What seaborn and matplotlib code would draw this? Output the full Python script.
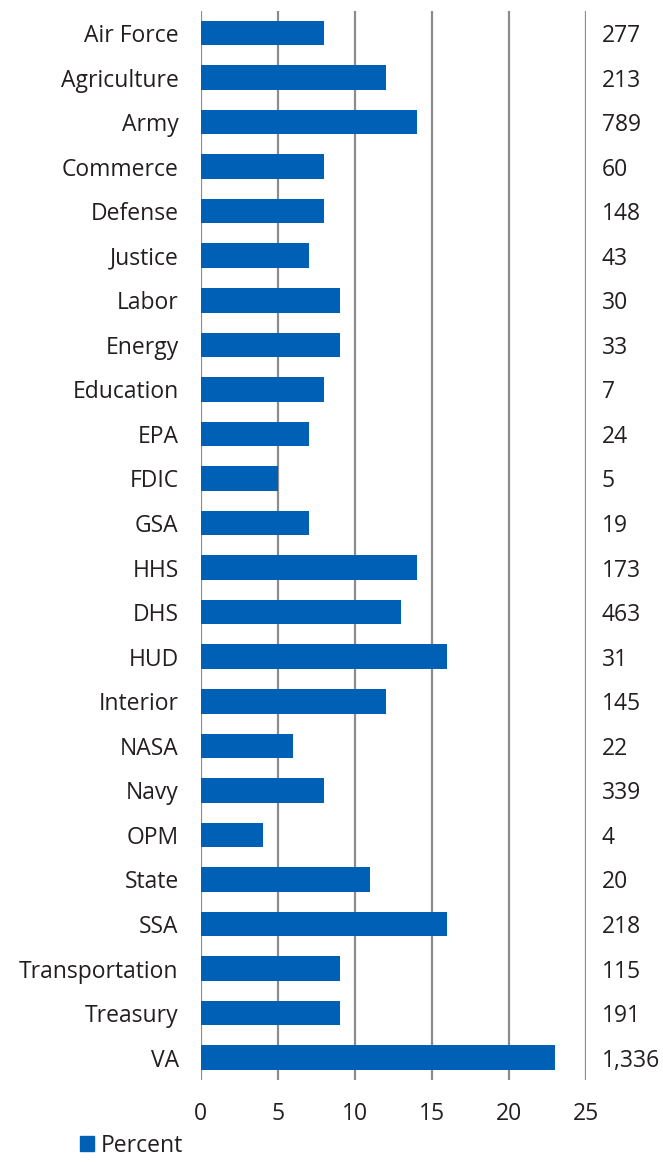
import matplotlib
matplotlib.use('Agg')
import pandas as pd
import seaborn as sns
import matplotlib.pyplot as plt
from matplotlib.patches import Patch

agencies = ['Air Force', 'Agriculture', 'Army', 'Commerce', 'Defense', 'Justice', 'Labor',
            'Energy', 'Education', 'EPA', 'FDIC', 'GSA', 'HHS', 'DHS', 'HUD', 'Interior',
            'NASA', 'Navy', 'OPM', 'State', 'SSA', 'Transportation', 'Treasury', 'VA']
percent = [8, 12, 14, 8, 8, 7, 9, 9, 8, 7, 5, 7, 14, 13, 16, 12, 6, 8, 4, 11, 16, 9, 9, 23]
counts = [277, 213, 789, 60, 148, 43, 30, 33, 7, 24, 5, 19, 173, 463, 31, 145, 22, 339,
          4, 20, 218, 115, 191, 1336]
xticks = [0, 5, 10, 15, 20, 25]

df = pd.DataFrame({'agency': agencies, 'percent': percent, 'count': counts})

sns.set_style('white')
plt.rcParams['font.family'] = ['Open Sans', 'DejaVu Sans']
txt = '#231f20'
blue = '#0060b6'
grey = '#8c8c8c'
fs = 16.5

fig = plt.figure(figsize=(6.63, 11.62), dpi=100)
ax = fig.add_axes([0.303, 0.0706, 0.581, 0.9202])

sns.barplot(data=df, x='percent', y='agency', orient='h', color=blue,
            width=0.55, saturation=1, linewidth=0, ax=ax)

ax.set_xlim(0, 25)
ax.set_ylim(len(agencies) - 0.5, -0.5)
ax.set_xticks(xticks)
ax.set_xticklabels([str(t) for t in xticks])
for t in xticks:
    ax.axvline(t, color=grey, lw=1.6, zorder=0)
for s in ax.spines.values():
    s.set_visible(False)
ax.tick_params(axis='both', length=0, labelsize=fs, colors=txt)
ax.tick_params(axis='x', pad=16)
ax.tick_params(axis='y', pad=16)
ax.set_xlabel('')
ax.set_ylabel('')

# count column at right of the chart
for i, c in enumerate(counts):
    ax.text(26.0, i, f'{c:,}', va='center_baseline', ha='left', fontsize=fs, color=txt,
            clip_on=False)

fig.legend(handles=[Patch(color=blue, label='Percent')], loc='lower left',
           bbox_to_anchor=(0.09, -0.014), frameon=False, fontsize=fs,
           handlelength=0.6, handleheight=0.6, handletextpad=0.3, labelcolor=txt)

fig.savefig('out.png', dpi=100)
